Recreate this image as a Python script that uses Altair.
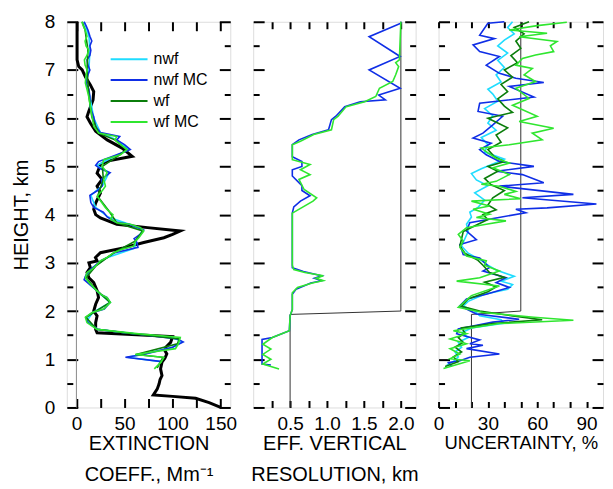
import altair as alt
import pandas as pd

SERIES = ["nwf", "nwf MC", "wf", "wf MC"]
COLORS = ["#1fdcff", "#0f2ee6", "#0b7d0b", "#2fe62f"]

Y_MAJOR = [0, 1, 2, 3, 4, 5, 6, 7, 8]
Y_MINOR = [0.5, 1.5, 2.5, 3.5, 4.5, 5.5, 6.5, 7.5]

# ---------------- Panel 1: extinction coefficient, Mm^-1 (height km, value) ----------------
EXT_TICKS = [0, 25, 50, 75, 100, 125, 150]
ZERO_LINE = [0]
ext_ref = [(0.0, 150), (0.1, 138), (0.19, 124), (0.23, 100), (0.26, 80), (0.38, 84), (0.49, 86),
           (0.58, 87), (0.66, 89), (0.80, 87.5), (0.94, 89), (1.02, 92), (1.11, 94), (1.18, 92),
           (1.25, 93), (1.35, 98), (1.47, 100), (1.55, 21.5), (1.62, 20), (1.76, 20), (1.90, 21.5),
           (2.00, 18), (2.14, 20), (2.28, 23), (2.42, 21.5), (2.59, 18), (2.69, 13), (2.80, 11),
           (2.90, 14.5), (3.00, 13), (3.04, 21.5), (3.11, 19.8), (3.21, 25), (3.31, 49), (3.42, 70),
           (3.52, 91), (3.59, 100), (3.66, 108), (3.73, 74), (3.80, 42), (3.93, 25), (4.00, 20),
           (4.11, 18), (4.24, 20), (4.45, 25), (4.59, 21.5), (4.73, 26.7), (4.86, 21.5), (5.04, 25),
           (5.11, 32), (5.21, 58), (5.38, 47.5), (5.55, 32), (5.73, 20), (5.90, 14.5), (6.03, 11),
           (6.14, 12.8), (6.38, 17.3), (6.55, 18), (6.69, 14.5), (6.86, 9.3), (7.00, 6), (7.07, 2.4),
           (7.21, 0.7), (8.00, 0.7)]
ext_nwf = [(0.95, 88), (1.04, 53), (1.12, 72), (1.25, 100), (1.36, 110), (1.45, 100), (1.55, 50),
           (1.62, 22), (1.80, 11), (1.97, 17), (2.18, 35), (2.35, 25), (2.55, 14), (2.70, 9),
           (2.90, 17), (3.10, 31), (3.30, 60), (3.45, 62), (3.68, 69), (3.80, 55), (3.95, 33),
           (4.15, 20), (4.40, 15), (4.60, 27), (4.87, 34), (5.02, 21), (5.24, 43), (5.35, 55),
           (5.55, 42), (5.70, 25), (6.00, 18), (6.45, 14), (6.73, 10), (7.00, 13), (7.41, 14),
           (7.70, 13), (8.00, 8)]
ext_nwf_mc = [(0.95, 89), (1.04, 51), (1.10, 70), (1.25, 100), (1.36, 111), (1.42, 105), (1.53, 60),
              (1.62, 22), (1.76, 12), (1.87, 10), (1.97, 17), (2.04, 29), (2.18, 35), (2.28, 32),
              (2.35, 25), (2.45, 20), (2.55, 14), (2.65, 8), (2.75, 10), (2.87, 15), (2.93, 19),
              (3.04, 25), (3.11, 32), (3.21, 40), (3.32, 64), (3.42, 63), (3.50, 60), (3.60, 67),
              (3.68, 70), (3.75, 62), (3.80, 55), (3.85, 40), (3.95, 32), (4.05, 28), (4.15, 18),
              (4.25, 15), (4.40, 14), (4.50, 22), (4.60, 27), (4.73, 26), (4.87, 35), (4.95, 25),
              (5.02, 20), (5.10, 23), (5.24, 42), (5.35, 56), (5.45, 50), (5.55, 42), (5.62, 45),
              (5.70, 25), (5.83, 20), (6.03, 18), (6.24, 14), (6.45, 14), (6.60, 13), (6.73, 10),
              (6.90, 12), (7.00, 14), (7.10, 12), (7.21, 11), (7.30, 14), (7.41, 15), (7.50, 14),
              (7.60, 16), (7.70, 14), (7.83, 12), (7.92, 10), (8.00, 8)]
ext_wf = [(0.82, 84), (1.04, 90), (1.10, 62), (1.32, 105), (1.42, 107), (1.55, 50), (1.62, 21),
          (1.87, 10), (2.18, 35), (2.45, 20), (2.69, 10), (2.93, 20), (3.21, 39), (3.45, 61),
          (3.66, 69), (3.83, 42), (4.07, 34), (4.38, 22), (4.73, 28), (5.00, 27), (5.24, 45),
          (5.35, 52), (5.55, 40), (5.69, 23), (6.03, 16), (6.45, 13), (7.00, 11), (7.41, 12),
          (7.83, 9), (8.00, 6)]
ext_wf_mc = [(0.80, 81), (0.94, 88), (1.04, 91), (1.10, 61), (1.22, 103), (1.32, 106), (1.45, 108),
             (1.53, 65), (1.62, 21.5), (1.76, 11), (1.87, 9.3), (1.97, 16.3), (2.04, 28.4),
             (2.18, 35.4), (2.28, 31.9), (2.35, 24.9), (2.45, 19.8), (2.59, 13), (2.69, 9.3),
             (2.80, 11), (2.87, 16.3), (2.93, 19.8), (3.04, 24.9), (3.11, 31.9), (3.21, 38.9),
             (3.28, 47.6), (3.35, 59.7), (3.45, 61.4), (3.52, 64.9), (3.66, 70), (3.73, 66.7),
             (3.80, 56.2), (3.83, 42.3), (3.90, 35.4), (4.00, 38), (4.07, 33.6), (4.15, 30),
             (4.24, 26.7), (4.38, 21.5), (4.50, 27), (4.59, 30.2), (4.73, 28.4), (4.87, 31.9),
             (5.00, 26.7), (5.14, 28.4), (5.24, 45.8), (5.35, 52.7), (5.42, 48), (5.48, 44),
             (5.55, 40), (5.62, 42), (5.69, 23.2), (5.83, 18), (6.03, 16.3), (6.24, 14.5),
             (6.45, 12.8), (6.60, 11), (6.73, 9.3), (6.90, 10), (7.00, 11.1), (7.10, 9), (7.21, 8.3),
             (7.30, 11), (7.41, 12.8), (7.50, 10), (7.60, 9), (7.70, 11), (7.83, 9.1), (7.92, 7),
             (8.00, 5.6)]

# ---------------- Panel 2: effective vertical resolution, km ----------------
RES_TICKS = [0.25, 0.5, 0.75, 1.0, 1.25, 1.5, 1.75, 2.0]
res_step = [(0.0, 0.5), (1.93, 0.5), (2.0, 2.0), (8.0, 2.0)]
res_nwf_mc = [(0.88, 0.24), (0.90, 0.12), (1.41, 0.12), (1.45, 0.26), (1.59, 0.49), (1.90, 0.50),
              (2.03, 0.53), (2.35, 0.53), (2.45, 0.58), (2.58, 0.78), (2.63, 0.93), (2.68, 0.83),
              (2.73, 0.93), (2.82, 0.68), (2.90, 0.53), (4.03, 0.53), (4.16, 0.55), (4.28, 0.64),
              (4.39, 0.77), (4.50, 0.66), (4.60, 0.66), (4.80, 0.53), (4.93, 0.53), (5.00, 0.66),
              (5.10, 0.66), (5.20, 0.53), (5.45, 0.53), (5.55, 0.62), (5.66, 0.80), (5.76, 1.02),
              (5.97, 1.06), (6.04, 1.12), (6.24, 1.24), (6.34, 1.45), (6.38, 1.79), (6.48, 1.70),
              (6.62, 1.99), (7.00, 1.57), (7.28, 1.99), (7.69, 1.57), (7.97, 2.0), (8.00, 2.0)]
res_wf_mc = [(0.80, 0.35), (0.90, 0.13), (1.00, 0.24), (1.10, 0.13), (1.21, 0.24), (1.31, 0.13),
             (1.45, 0.26), (1.59, 0.49), (1.90, 0.50), (2.03, 0.53), (2.38, 0.53), (2.49, 0.60),
             (2.58, 0.80), (2.63, 0.95), (2.68, 0.85), (2.73, 0.95), (2.80, 0.70), (2.86, 0.55),
             (2.95, 0.53), (4.03, 0.53), (4.28, 0.81), (4.35, 0.86), (4.52, 0.69), (4.73, 0.62),
             (4.83, 0.77), (4.93, 0.64), (5.04, 0.77), (5.14, 0.53), (5.45, 0.53), (5.52, 0.64),
             (5.66, 0.82), (5.76, 1.06), (5.97, 1.09), (6.04, 1.15), (6.24, 1.26), (6.34, 1.51),
             (6.45, 1.66), (6.62, 1.71), (6.76, 1.89), (6.90, 1.93), (7.07, 1.97), (7.15, 1.93),
             (7.21, 1.98), (8.00, 2.0)]

# ---------------- Panel 3: uncertainty, % ----------------
UNC_TICKS = [0, 10, 20, 30, 40, 50, 60, 70, 80, 90]
unc_step = [(0.0, 20), (1.93, 20), (2.0, 50), (8.0, 50)]
unc_nwf = [(0.88, 5), (0.95, 9), (1.05, 12), (1.15, 10), (1.25, 14), (1.35, 12), (1.45, 18),
           (1.55, 14), (1.65, 20), (1.75, 40), (1.82, 38), (1.90, 25), (2.00, 22), (2.10, 15),
           (2.20, 18), (2.35, 28), (2.45, 42), (2.55, 45), (2.62, 38), (2.72, 46), (2.85, 35),
           (2.95, 30), (3.05, 26), (3.20, 18), (3.35, 14), (3.50, 16), (3.65, 18), (3.80, 17),
           (3.95, 20), (4.05, 19), (4.15, 24), (4.30, 28), (4.45, 22), (4.60, 30), (4.72, 23),
           (4.85, 20), (4.95, 26), (5.05, 33), (5.15, 40), (5.30, 28), (5.45, 30), (5.60, 26),
           (5.75, 35), (5.90, 30), (6.05, 33), (6.20, 28), (6.35, 36), (6.50, 33), (6.60, 30),
           (6.75, 38), (6.90, 35), (7.05, 40), (7.20, 36), (7.35, 42), (7.50, 36), (7.62, 40),
           (7.75, 46), (7.88, 42), (8.00, 45)]
unc_nwf_mc = [(0.85, 8), (0.93, 6), (0.97, 13), (1.04, 19), (1.11, 37), (1.22, 17), (1.29, 27),
              (1.32, 19), (1.40, 25), (1.53, 11), (1.63, 12), (1.77, 33), (1.83, 49), (1.94, 23),
              (2.11, 13), (2.25, 17), (2.35, 29), (2.49, 43), (2.59, 35), (2.69, 41), (2.83, 27),
              (2.90, 31), (3.10, 25), (3.17, 15), (3.38, 13), (3.48, 23), (3.66, 17), (3.83, 19),
              (4.04, 53), (4.11, 47), (4.14, 66), (4.22, 96), (4.35, 51), (4.42, 82), (4.59, 37),
              (4.66, 64), (4.83, 51), (4.90, 35), (5.00, 58), (5.10, 37), (5.24, 29), (5.35, 25),
              (5.48, 32), (5.59, 21), (5.69, 27), (5.86, 33), (6.04, 39), (6.14, 24), (6.31, 25),
              (6.44, 58), (6.66, 43), (6.74, 64), (6.83, 47), (6.93, 37), (7.10, 29), (7.28, 37),
              (7.38, 25), (7.52, 21), (7.65, 34), (7.72, 25), (7.97, 30), (8.00, 40)]
unc_wf = [(0.85, 4), (0.95, 12), (1.05, 9), (1.15, 14), (1.25, 10), (1.35, 15), (1.45, 12),
          (1.55, 16), (1.65, 14), (1.74, 33), (1.82, 63), (1.90, 45), (2.00, 25), (2.10, 14),
          (2.25, 18), (2.40, 30), (2.50, 35), (2.60, 28), (2.70, 40), (2.80, 31), (2.95, 27),
          (3.05, 24), (3.20, 16), (3.35, 13), (3.50, 14), (3.65, 15), (3.80, 24), (3.90, 30),
          (4.00, 27), (4.10, 35), (4.20, 30), (4.35, 33), (4.50, 40), (4.62, 32), (4.75, 28),
          (4.90, 36), (5.00, 30), (5.10, 40), (5.20, 34), (5.35, 30), (5.50, 38), (5.65, 35),
          (5.80, 42), (5.90, 36), (6.00, 30), (6.12, 45), (6.25, 40), (6.40, 36), (6.55, 42),
          (6.70, 38), (6.85, 45), (7.00, 40), (7.15, 48), (7.30, 44), (7.45, 50), (7.60, 47),
          (7.75, 52), (7.88, 46), (8.00, 55)]
unc_wf_mc = [(0.81, 3), (0.97, 19), (1.01, 7), (1.11, 13), (1.22, 7), (1.32, 17), (1.42, 7),
             (1.53, 17), (1.59, 9), (1.74, 37), (1.81, 82), (1.87, 58), (1.97, 27), (2.08, 12),
             (2.32, 20), (2.52, 37), (2.62, 11), (2.69, 25), (2.83, 37), (2.95, 28), (3.04, 29),
             (3.14, 17), (3.32, 13), (3.45, 15), (3.59, 12), (3.73, 17), (3.80, 29), (3.87, 41),
             (3.94, 23), (4.01, 31), (4.11, 21), (4.18, 31), (4.28, 20), (4.33, 50), (4.42, 40),
             (4.48, 47), (4.59, 37), (4.63, 26), (4.69, 35), (4.83, 43), (4.97, 33), (5.07, 43),
             (5.17, 35), (5.28, 30), (5.38, 26), (5.45, 43), (5.55, 63), (5.69, 57), (5.79, 70),
             (5.93, 49), (6.04, 60), (6.27, 45), (6.41, 55), (6.62, 47), (6.76, 59), (6.90, 52),
             (7.03, 57), (7.10, 47), (7.24, 51), (7.31, 59), (7.38, 70), (7.50, 68), (7.59, 72),
             (7.69, 49), (7.76, 66), (7.83, 43), (7.92, 60), (7.99, 78)]

FONT = "Liberation Sans"


def series_df(pairs_by_name):
    rows = []
    for name, pts in pairs_by_name:
        for i, (h, v) in enumerate(pts):
            rows.append({"s": name, "h": h, "v": v, "i": i})
    return pd.DataFrame(rows)


def plain_df(pts):
    return pd.DataFrame({"h": [p[0] for p in pts], "v": [p[1] for p in pts],
                         "i": list(range(len(pts)))})


def panel(width, xdomain, xticks, label_expr, xtitle, title_size, xtick, colored, extras, first, legend):
    xs = alt.Scale(domain=xdomain, nice=False, zero=False)
    ys = alt.Scale(domain=[0, 8], nice=False, zero=False)
    tick_common = dict(domain=False, grid=False, tickColor="black", tickWidth=2)

    ax_bottom = alt.Axis(orient="bottom", values=xticks, tickSize=xtick, offset=-xtick,
                         labelExpr=label_expr, labelFontSize=19, labelPadding=7,
                         labelFlush=False, labelOverlap=False, labelColor="black",
                         title=xtitle, titleFontSize=title_size, titleFontWeight="normal",
                         titleLineHeight=31, titlePadding=0, titleColor="black",
                         **tick_common)
    ax_top = alt.Axis(orient="top", values=xticks, tickSize=xtick, offset=-xtick,
                      labels=False, title=None, **tick_common)
    if first:
        ax_left = alt.Axis(orient="left", values=Y_MAJOR, tickSize=11, offset=-11,
                           labelFontSize=19, labelPadding=12, labelColor="black",
                           title="HEIGHT, km", titleFontSize=20, titleFontWeight="normal",
                           titlePadding=13, titleColor="black", **tick_common)
    else:
        ax_left = alt.Axis(orient="left", values=Y_MAJOR, tickSize=11, offset=-11,
                           labels=False, title=None, **tick_common)
    ax_right = alt.Axis(orient="right", values=Y_MAJOR, tickSize=11, offset=-11,
                        labels=False, title=None, **tick_common)
    ax_left_minor = alt.Axis(orient="left", values=Y_MINOR, tickSize=6, offset=-6,
                             labels=False, title=None, **tick_common)
    ax_right_minor = alt.Axis(orient="right", values=Y_MINOR, tickSize=6, offset=-6,
                              labels=False, title=None, **tick_common)

    cscale = alt.Scale(domain=SERIES, range=COLORS)
    main = alt.Chart(colored).mark_line(strokeWidth=1.6).encode(
        x=alt.X("v:Q", scale=xs, axis=ax_bottom),
        y=alt.Y("h:Q", scale=ys, axis=ax_left),
        color=alt.Color("s:N", scale=cscale, legend=legend),
        order="i:Q",
    )
    inv = alt.Chart(colored).mark_point(opacity=0)
    inv1 = inv.encode(x=alt.X("v:Q", scale=xs, axis=ax_top),
                      y=alt.Y("h:Q", scale=ys, axis=ax_right))
    inv2 = inv.encode(x=alt.X("v:Q", scale=xs, axis=None),
                      y=alt.Y("h:Q", scale=ys, axis=ax_left_minor))
    inv3 = inv.encode(x=alt.X("v:Q", scale=xs, axis=None),
                      y=alt.Y("h:Q", scale=ys, axis=ax_right_minor))
    layers = [e(xs, ys) for e in extras] + [main, inv1, inv2, inv3]
    return alt.layer(*layers).resolve_axis(x="independent", y="independent").properties(
        width=width, height=387)


def zero_rule(xs, ys):
    return alt.Chart(pd.DataFrame({"v": ZERO_LINE})).mark_rule(color="#8a8a8a", strokeWidth=1).encode(
        x=alt.X("v:Q", scale=xs, axis=None))


def ref_line(pts, color, width):
    def make(xs, ys):
        return alt.Chart(plain_df(pts)).mark_line(color=color, strokeWidth=width).encode(
            x=alt.X("v:Q", scale=xs, axis=None),
            y=alt.Y("h:Q", scale=ys, axis=None),
            order="i:Q")
    return make


legend1 = alt.Legend(title=None, orient="none", legendX=43, legendY=27, symbolType="stroke",
                     symbolSize=1369, symbolStrokeWidth=2, clipHeight=21, rowPadding=0,
                     labelFontSize=16, labelOffset=5, padding=0, labelFont=FONT,
                     labelColor="black")

p1 = panel(164, [-10, 160], EXT_TICKS,
           "datum.value % 50 === 0 ? datum.label : ''",
           ["EXTINCTION", "COEFF., Mm\u207b\u00b9"], 20, 9,
           series_df([("nwf", ext_nwf), ("nwf MC", ext_nwf_mc), ("wf", ext_wf), ("wf MC", ext_wf_mc)]),
           [zero_rule, ref_line(ext_ref, "black", 3)], True, legend1)

p2 = panel(163, [0, 2.2], RES_TICKS,
           "(datum.value * 2) % 1 === 0 ? format(datum.value, '.1f') : ''",
           ["EFF. VERTICAL", "RESOLUTION, km"], 20, 7,
           series_df([("nwf MC", res_nwf_mc), ("wf MC", res_wf_mc)]),
           [ref_line(res_step, "#333333", 1)], False, None)

p3 = panel(165, [0, 100], UNC_TICKS,
           "datum.value % 30 === 0 ? datum.label : ''",
           "UNCERTAINTY, %", 18.5, 6,
           series_df([("nwf", unc_nwf), ("nwf MC", unc_nwf_mc), ("wf", unc_wf), ("wf MC", unc_wf_mc)]),
           [ref_line(unc_step, "#333333", 1)], False, None)

chart = alt.hconcat(p1, p2, p3, spacing=23, bounds="flush").resolve_legend(
    color="independent"
).properties(
    padding={"left": 2, "top": 3, "right": 0, "bottom": 0}
).configure_view(stroke="black", strokeWidth=2).configure(font=FONT)

chart.save("out.html", embed_options={"renderer": "svg", "actions": False})
